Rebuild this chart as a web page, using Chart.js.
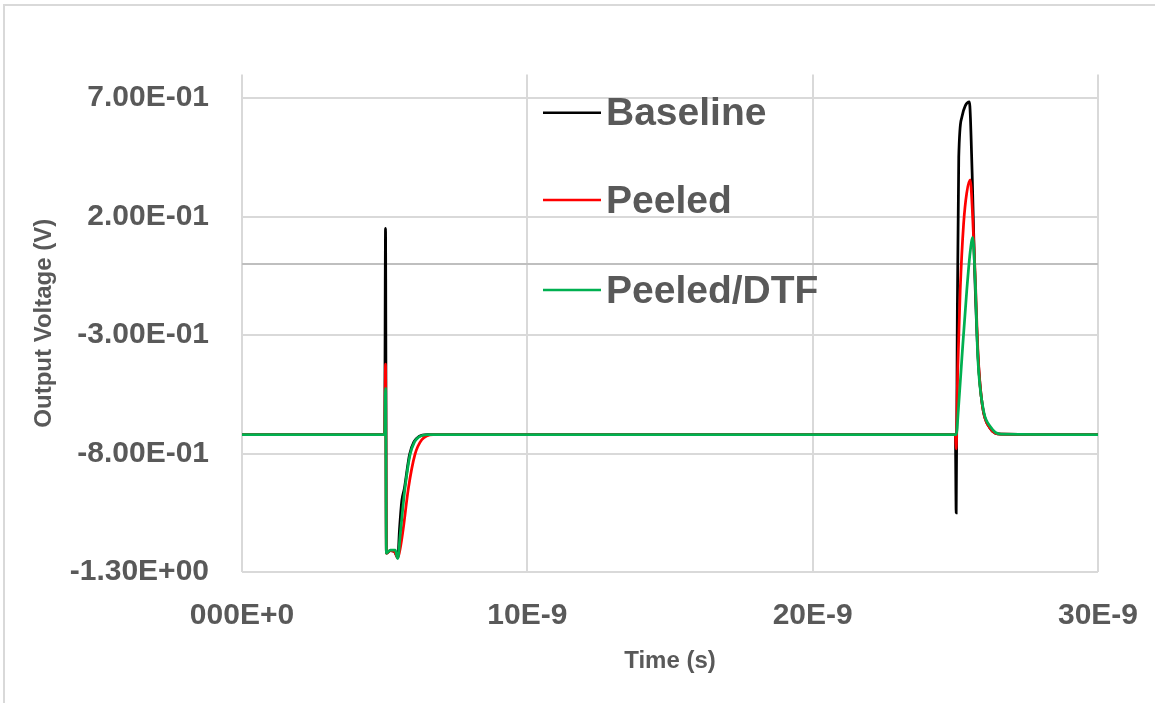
<!DOCTYPE html>
<html><head><meta charset="utf-8">
<script src="https://cdn.jsdelivr.net/npm/chart.js@4.4.1/dist/chart.umd.min.js"></script>
<style>
html,body{margin:0;padding:0;background:#fff;}
#wrap{position:relative;width:1155px;height:703px;overflow:hidden;background:#fff;}
#frame{position:absolute;left:3px;top:4px;width:1170px;height:720px;border:2px solid #d9d9d9;box-sizing:border-box;pointer-events:none;}
#c{position:absolute;left:0;top:0;}
</style></head><body>
<div id="wrap"><canvas id="c" width="1155" height="703"></canvas><div id="frame"></div></div>
<script>
// ---- data (time in ns, voltage in V) ----
const seriesNames = ['Baseline', 'Peeled', 'Peeled/DTF'];
const seriesColors = ['#000000', '#ff0000', '#00b050'];

const tBaseline = [0, 5.0, 5.03, 5.06, 5.2, 5.35, 5.46, 5.52, 5.6, 5.69, 5.87, 6.03, 6.2, 6.5, 7.0,
  25.0, 25.03, 25.07, 25.12, 25.23, 25.35, 25.49, 25.59, 25.67, 25.8, 25.95, 26.2, 26.6, 30];
const vBaseline = [-0.72, -0.72, 0.15, -1.22, -1.21, -1.215, -1.24, -1.12, -1.0, -0.948, -0.805, -0.75, -0.728, -0.72, -0.72,
  -0.72, -1.05, -0.2, 0.45, 0.62, 0.668, 0.684, 0.38, 0.0, -0.4, -0.6, -0.69, -0.718, -0.72];

const tPeeled = [0, 5.0, 5.03, 5.06, 5.2, 5.35, 5.46, 5.56, 5.65, 5.83, 6.06, 6.3, 6.7, 7.0,
  25.0, 25.03, 25.08, 25.17, 25.29, 25.4, 25.52, 25.6, 25.69, 25.8, 25.95, 26.2, 26.6, 30];
const vPeeled = [-0.72, -0.72, -0.423, -1.22, -1.21, -1.215, -1.24, -1.19, -1.118, -0.948, -0.805, -0.742, -0.72, -0.72,
  -0.72, -0.78, -0.465, -0.113, 0.17, 0.3, 0.355, 0.22, -0.03, -0.39, -0.6, -0.69, -0.718, -0.72];

const tDTF = [0, 5.0, 5.03, 5.06, 5.2, 5.37, 5.46, 5.54, 5.62, 5.71, 5.89, 6.05, 6.2, 6.5, 7.0,
  25.0, 25.03, 25.11, 25.23, 25.4, 25.52, 25.61, 25.69, 25.79, 25.96, 26.25, 26.6, 30];
const vDTF = [-0.72, -0.72, -0.525, -1.22, -1.208, -1.208, -1.243, -1.15, -1.05, -0.948, -0.805, -0.75, -0.73, -0.72, -0.72,
  -0.72, -0.72, -0.608, -0.396, -0.113, 0.05, 0.112, -0.05, -0.4, -0.6, -0.69, -0.718, -0.72];

const xTickValues = [0, 10, 20, 30];
const xTickLabels = ['000E+0', '10E-9', '20E-9', '30E-9'];
const yTickValues = [-1.3, -0.8, -0.3, 0.2, 0.7];
const yTickLabels = ['-1.30E+00', '-8.00E-01', '-3.00E-01', '2.00E-01', '7.00E-01'];
const yMin = -1.3, yMax = 0.8, xMin = 0, xMax = 30;

const toPts = (ts, vs) => ts.map((t, i) => ({x: t, y: vs[i]}));
const seriesT = [tBaseline, tPeeled, tDTF];
const seriesV = [vBaseline, vPeeled, vDTF];

const FONT = '"Liberation Sans", Arial, sans-serif';
const TEXT = '#595959';

const legendPlugin = {
  id: 'inLegend',
  afterDraw(chart) {
    const ctx = chart.ctx;
    const ys = [112.7, 200, 290];
    ctx.save();
    chart.data.datasets.forEach((ds, i) => {
      const y = ys[i];
      ctx.strokeStyle = ds.borderColor;
      ctx.lineWidth = 2.5;
      ctx.beginPath();
      ctx.moveTo(543, y);
      ctx.lineTo(601, y);
      ctx.stroke();
      ctx.fillStyle = TEXT;
      ctx.font = 'bold 39px ' + FONT;
      ctx.textBaseline = 'middle';
      ctx.textAlign = 'left';
      ctx.fillText(ds.label, 606, y + 2);
    });
    ctx.restore();
  }
};

new Chart(document.getElementById('c'), {
  type: 'line',
  data: {
    datasets: seriesNames.map((n, i) => ({
      label: n,
      data: toPts(seriesT[i], seriesV[i]),
      borderColor: seriesColors[i],
      backgroundColor: seriesColors[i],
      borderWidth: 2.75,
      pointRadius: 0,
      fill: false,
      cubicInterpolationMode: 'monotone',
      order: 3 - i
    }))
  },
  options: {
    responsive: false,
    animation: false,
    devicePixelRatio: 1,
    events: [],
    layout: {padding: {top: 74.4, right: 57, left: 0, bottom: 0}},
    plugins: {legend: {display: false}, tooltip: {enabled: false}},
    scales: {
      x: {
        type: 'linear', min: xMin, max: xMax,
        afterBuildTicks: s => { s.ticks = xTickValues.map(v => ({value: v})); },
        afterFit: s => { s.height = 131; s.paddingRight = 0; s.paddingLeft = 0; },
        ticks: {
          padding: 26, color: TEXT,
          font: {family: FONT, size: 30, weight: 'bold'},
          callback: v => { const k = xTickValues.indexOf(v); return k >= 0 ? xTickLabels[k] : ''; }
        },
        grid: {color: '#d9d9d9', lineWidth: 2, drawTicks: false},
        border: {display: false},
        title: {display: true, text: 'Time (s)', color: TEXT,
          font: {family: FONT, size: 24, weight: 'bold'}, padding: {top: 0, bottom: 27}}
      },
      y: {
        type: 'linear', min: yMin, max: yMax,
        afterBuildTicks: s => { s.ticks = yTickValues.concat([0]).sort((a, b) => a - b).map(v => ({value: v})); },
        afterFit: s => { s.width = 242; },
        ticks: {
          padding: 33, color: TEXT,
          font: {family: FONT, size: 30, weight: 'bold'},
          callback: v => { const k = yTickValues.findIndex(t => Math.abs(t - v) < 1e-9); return k >= 0 ? yTickLabels[k] : ''; }
        },
        grid: {
          color: c => (c.tick && Math.abs(c.tick.value) < 1e-9) ? '#bfbfbf' : '#d9d9d9',
          lineWidth: 2, drawTicks: false
        },
        border: {display: false},
        title: {display: true, text: 'Output Voltage (V)', color: TEXT,
          font: {family: FONT, size: 24, weight: 'bold'}, padding: {top: 30, bottom: 0}}
      }
    }
  },
  plugins: [legendPlugin]
});
</script>
</body></html>
